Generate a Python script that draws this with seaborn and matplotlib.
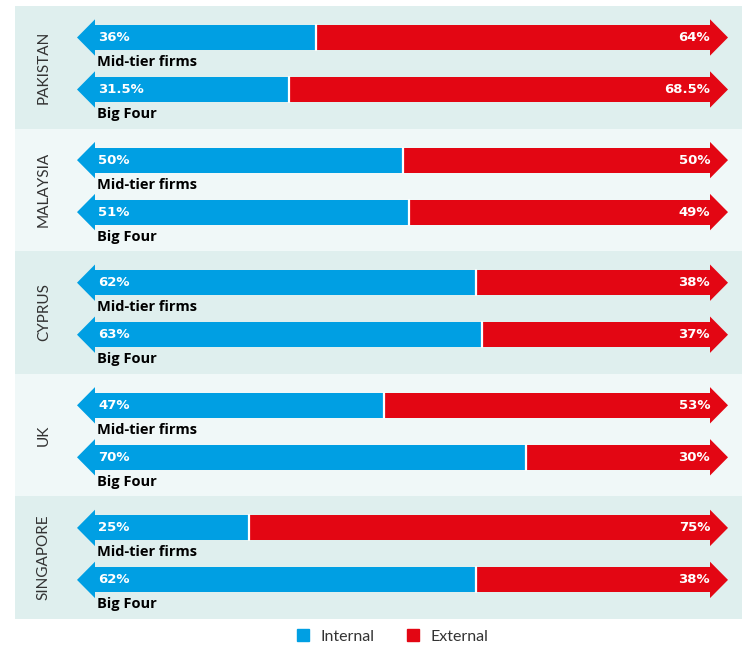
import pandas as pd
import numpy as np
import matplotlib
matplotlib.use('Agg')
import matplotlib.pyplot as plt
import seaborn as sb

# data
countries = ['PAKISTAN', 'MALAYSIA', 'CYPRUS', 'UK', 'SINGAPORE']
firm_types = ['Mid-tier firms', 'Big Four']
internal = [[36, 31.5], [50, 51], [62, 63], [47, 70], [25, 62]]
external = [[64, 68.5], [50, 49], [38, 37], [53, 30], [75, 38]]

blue = '#009fe3'
red = '#e30613'
bg_dark = '#dfefee'
bg_light = '#f0f8f8'

sb.set_style('white')
plt.rcParams['font.family'] = ['Lato', 'DejaVu Sans']
label_font = ['Open Sans', 'DejaVu Sans']
pct_font = ['DejaVu Sans']

W, H = 742, 646
fig = plt.figure(figsize=(W / 100, H / 100), dpi=100)
gs = fig.add_gridspec(len(countries), 1, left=15 / W, right=1.0,
                      top=1 - 6 / H, bottom=1 - 619 / H, hspace=0)

# pixel scale: 0% at x=95, 100% at x=710
px = 6.15
xmin = (15 - 95) / px
xmax = (742 - 95) / px
head_w = 18 / px
head_h = 0.35

for i, country in enumerate(countries):
    ax = fig.add_subplot(gs[i])
    df = pd.DataFrame({'firm': firm_types, 'internal': internal[i],
                       'total': np.array(internal[i]) + np.array(external[i])})
    ax.set_facecolor(bg_dark if i % 2 == 0 else bg_light)
    sb.barplot(data=df, y='firm', x='total', color=red, saturation=1,
               width=0.48, ax=ax, orient='h', linewidth=0)
    sb.barplot(data=df, y='firm', x='internal', color=blue, saturation=1,
               width=0.48, ax=ax, orient='h', linewidth=0)
    for j in range(len(firm_types)):
        tot = df['total'][j]
        p = internal[i][j]
        # arrow heads
        ax.fill([0, -head_w, 0], [j - head_h, j, j + head_h], color=blue, lw=0)
        ax.fill([tot, tot + head_w, tot], [j - head_h, j, j + head_h], color=red, lw=0)
        # white split line
        ax.plot([p, p], [j - 0.24, j + 0.24], color='white', lw=1.6)
        ax.text(0.5, j, f'{p:g}%', color='white', fontsize=9.5, fontweight='bold',
                va='center', ha='left', family=pct_font)
        ax.text(tot, j, f'{external[i][j]:g}%', color='white', fontsize=9.5,
                fontweight='bold', va='center', ha='right', family=pct_font)
        ax.text(0.4, j + 0.47, firm_types[j], color='black', fontsize=10.5,
                fontweight='bold', va='center', ha='left', family=label_font)
    ax.text(-8.3, 0.57, country, rotation=90, ha='center', va='center',
            fontsize=11, color='#333333')
    ax.set_xlim(xmin, xmax)
    ax.set_ylim(1 + (122.6 - 83.5) / 52, -31.5 / 52)
    ax.set_axis_off()
    ax.add_patch(plt.Rectangle((0, 0), 1, 1, transform=ax.transAxes,
                               color=ax.get_facecolor(), zorder=-10))

# legend
handles = [plt.Line2D([], [], marker='s', ls='', color=blue, markersize=8),
           plt.Line2D([], [], marker='s', ls='', color=red, markersize=8)]
fig.legend(handles, ['Internal', 'External'], loc='center',
           bbox_to_anchor=(388 / W, 1 - 637 / H), ncol=2, frameon=False,
           fontsize=11.5, handletextpad=0.1, columnspacing=1.4,
           labelcolor='#333333')

fig.savefig('out.png', dpi=100)
